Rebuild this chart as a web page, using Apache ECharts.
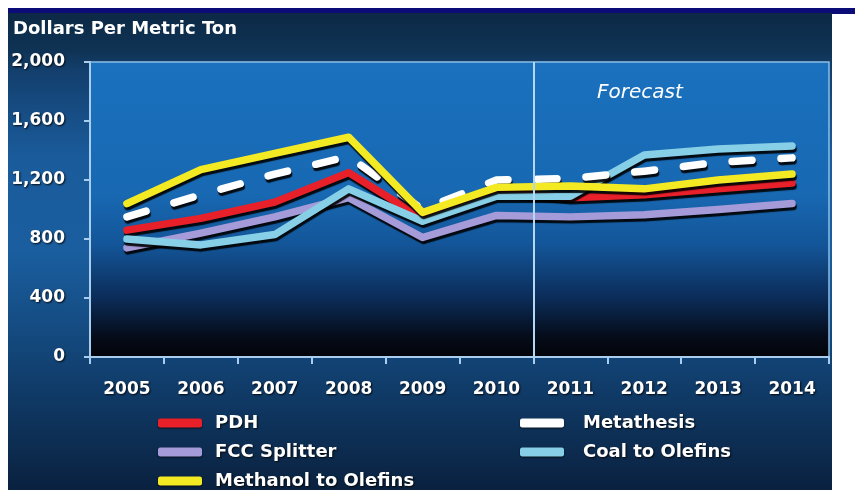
<!DOCTYPE html>
<html>
<head>
<meta charset="utf-8">
<script src="https://cdn.jsdelivr.net/npm/echarts@6/dist/echarts.min.js"></script>
<style>
  html, body { margin: 0; padding: 0; background: #ffffff; }
  #chart { width: 855px; height: 490px; }
</style>
</head>
<body>
<div id="chart"></div>
<script>
// Propylene production cost by route, dollars per metric ton
const years = ['2005', '2006', '2007', '2008', '2009', '2010', '2011', '2012', '2013', '2014'];
const pdh = [860, 940, 1050, 1250, 940, 1120, 1080, 1100, 1140, 1180];
const metathesis = [950, 1100, 1240, 1360, 1000, 1200, 1210, 1260, 1320, 1350];
const fccSplitter = [740, 840, 950, 1080, 810, 960, 950, 965, 1000, 1040];
const coalToOlefins = [800, 760, 830, 1140, 920, 1090, 1090, 1370, 1410, 1430];
const methanolToOlefins = [1040, 1270, 1380, 1490, 980, 1150, 1160, 1140, 1200, 1240];
const yTicks = { min: 0, max: 2000, interval: 400 };
const forecastStart = 6; // boundary between 2010 and 2011

const FONT = '"DejaVu Sans", sans-serif';
const textShadow = { textShadowColor: 'rgba(0,0,0,0.85)', textShadowBlur: 2, textShadowOffsetX: 1, textShadowOffsetY: 1 };
const axisBlue = '#a9cdee';

function lineSeries(name, data, color, dashed) {
  return {
    name: name,
    type: 'line',
    data: data,
    symbol: 'none',
    smooth: false,
    lineStyle: {
      color: color,
      width: 7.5,
      cap: 'round',
      join: 'round',
      type: dashed ? [20, 29] : 'solid',
      shadowColor: 'rgba(0,0,0,0.9)',
      shadowBlur: 1,
      shadowOffsetX: 1,
      shadowOffsetY: 3
    },
    itemStyle: { color: color },
    emphasis: { disabled: true }
  };
}

// Two legend columns, one legend block per row
function legendItem(name, left, top, textGap) {
  return {
    left: left, top: top,
    data: [name],
    icon: 'roundRect',
    itemWidth: 44,
    itemHeight: 9,
    selectedMode: false,
    padding: 0,
    textStyle: Object.assign({
      color: '#ffffff', fontFamily: FONT, fontWeight: 'bold', fontSize: 18, lineHeight: 20,
      padding: [0, 0, 0, textGap]
    }, textShadow),
    itemStyle: { shadowColor: 'rgba(0,0,0,0.7)', shadowBlur: 2, shadowOffsetY: 1 }
  };
}

const chart = echarts.init(document.getElementById('chart'), null, { renderer: 'canvas' });

chart.setOption({
  animation: false,
  backgroundColor: '#ffffff',
  graphic: [
    { type: 'rect', z: -10, shape: { x: 8, y: 8, width: 847, height: 6 }, style: { fill: '#0c0c78' } },
    {
      type: 'rect', z: -10, shape: { x: 8, y: 13, width: 824, height: 477 },
      style: {
        fill: new echarts.graphic.LinearGradient(0, 0, 0, 1, [
          { offset: 0, color: '#0c2946' },
          { offset: 0.08, color: '#0f3354' },
          { offset: 0.12, color: '#133f6d' },
          { offset: 0.3, color: '#1a5b9b' },
          { offset: 0.5, color: '#1a5e9f' },
          { offset: 0.72, color: '#124476' },
          { offset: 1, color: '#0a213f' }
        ])
      }
    },
    {
      type: 'text', left: 13, top: 20,
      style: { text: 'Dollars Per Metric Ton', fill: '#ffffff', font: 'bold 18px ' + FONT, shadowColor: 'rgba(0,0,0,0.8)', shadowBlur: 2, shadowOffsetX: 1, shadowOffsetY: 1 }
    },
    {
      type: 'text', left: 597, top: 83, z: 10,
      style: { text: 'Forecast', fill: '#ffffff', font: 'oblique 20px ' + FONT, shadowColor: 'rgba(0,0,0,0.6)', shadowBlur: 2, shadowOffsetX: 1, shadowOffsetY: 1 }
    }
  ],
  grid: {
    left: 90, right: 26, top: 62, bottom: 133,
    show: true,
    borderColor: '#8cbde6',
    borderWidth: 1.5,
    backgroundColor: new echarts.graphic.LinearGradient(0, 0, 0, 1, [
      { offset: 0, color: '#1a71be' },
      { offset: 0.45, color: '#1868b2' },
      { offset: 0.62, color: '#135598' },
      { offset: 0.8, color: '#0b2c58' },
      { offset: 0.93, color: '#050c19' },
      { offset: 1, color: '#020307' }
    ])
  },
  legend: [
    legendItem('PDH', 158, 413, 8),
    legendItem('FCC Splitter', 158, 442, 8),
    legendItem('Methanol to Olefins', 158, 471, 8),
    legendItem('Metathesis', 520, 413, 14),
    legendItem('Coal to Olefins', 520, 442, 14)
  ],
  xAxis: [
    {
      type: 'category',
      data: years,
      boundaryGap: true,
      axisLine: { lineStyle: { color: axisBlue, width: 2 } },
      axisTick: { show: true, length: 7, lineStyle: { color: axisBlue, width: 2 } },
      axisLabel: Object.assign({ color: '#ffffff', fontFamily: FONT, fontWeight: 'bold', fontSize: 17, margin: 24 }, textShadow),
      splitLine: { show: false }
    },
    { type: 'value', min: 0, max: years.length, show: false }
  ],
  yAxis: {
    type: 'value',
    min: yTicks.min,
    max: yTicks.max,
    interval: yTicks.interval,
    axisLine: { show: true, lineStyle: { color: axisBlue, width: 2 } },
    axisTick: { show: true, length: 6, lineStyle: { color: axisBlue, width: 2 } },
    axisLabel: Object.assign({
      color: '#ffffff', fontFamily: FONT, fontWeight: 'bold', fontSize: 17, margin: 25,
      formatter: v => v.toLocaleString('en-US')
    }, textShadow),
    splitLine: { show: false }
  },
  series: [
    {
      type: 'line', xAxisIndex: 1, data: [[forecastStart, 0]], symbol: 'none', silent: true,
      lineStyle: { opacity: 0 },
      markLine: {
        silent: true, symbol: 'none', label: { show: false },
        lineStyle: { color: '#b4d8f4', width: 2, type: 'solid' },
        data: [{ xAxis: forecastStart }]
      }
    },
    lineSeries('FCC Splitter', fccSplitter, '#a59bd9', false),
    lineSeries('PDH', pdh, '#e8202a', false),
    lineSeries('Coal to Olefins', coalToOlefins, '#86cfe6', false),
    lineSeries('Metathesis', metathesis, '#ffffff', true),
    lineSeries('Methanol to Olefins', methanolToOlefins, '#f4ea24', false)
  ]
});
</script>
</body>
</html>
